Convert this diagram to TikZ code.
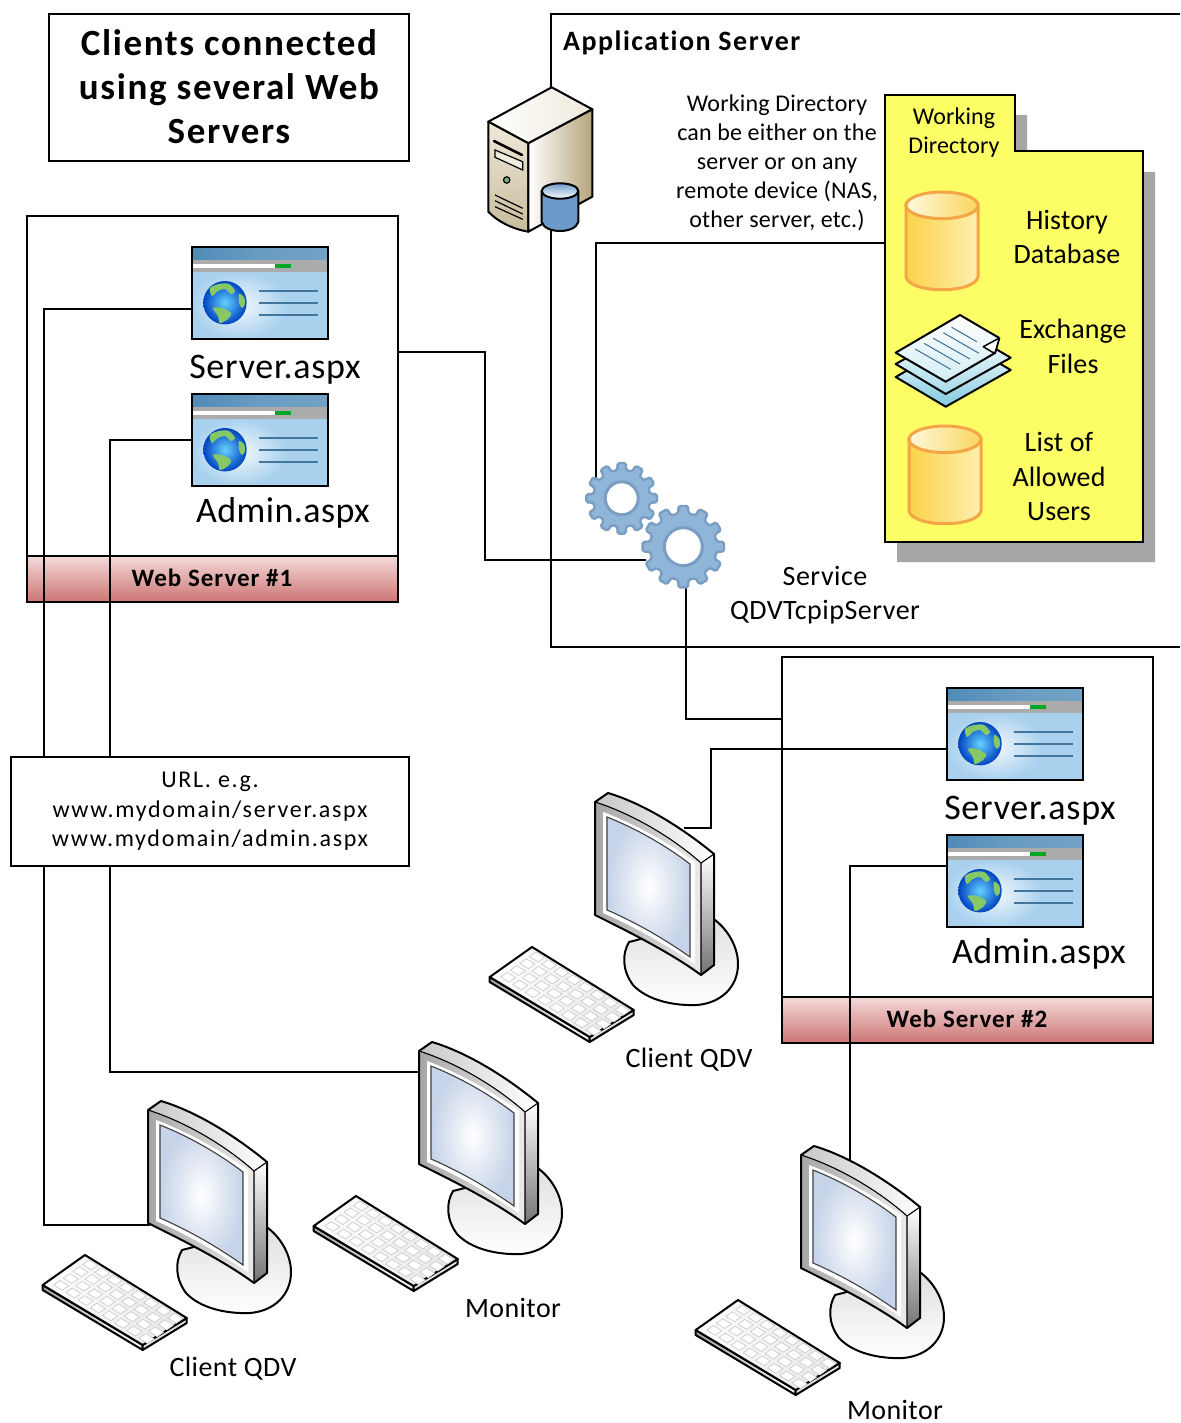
\documentclass[tikz,border=0pt]{standalone}
\usepackage{fontspec}
\setmainfont{Carlito}
\newcommand{\fs}[3]{\fontsize{#1}{#2}\selectfont\addfontfeature{LetterSpace=#3,Ligatures=NoCommon}}
\definecolor{gearblue}{HTML}{8FB6D8}
\definecolor{gearedge}{HTML}{7A9DC2}
\definecolor{foldery}{HTML}{FDFD66}
\definecolor{shadowg}{HTML}{A6A6A6}
\definecolor{bandtop}{HTML}{F4DADA}
\definecolor{bandbot}{HTML}{CC7573}
\definecolor{drumedge}{HTML}{F4A546}
\definecolor{drumleft}{HTML}{FBD24A}
\definecolor{drummid}{HTML}{FCE07A}
\definecolor{drumright}{HTML}{FFEFAE}
\definecolor{drumtopl}{HTML}{FFF8DC}
\definecolor{drumtopr}{HTML}{F9D65F}
\definecolor{pagebar}{HTML}{4F8BB7}
\definecolor{pageback}{HTML}{A9D1EE}
\definecolor{landgreen}{HTML}{86C766}
\definecolor{screenout}{HTML}{C6D3E8}
\tikzset{
  x=1pt,y=-1pt,
  wire/.style={draw=black,line width=1.3,line join=miter},
  plainbox/.style={draw=black,line width=1.3,fill=white,inner sep=0,outer sep=0,align=center},
  serverbox/.style={draw=black,line width=1.3,inner sep=0,outer sep=0,anchor=north west,minimum width=371,minimum height=386},
  band/.style={draw=black,line width=1.3,inner sep=0,outer sep=0,anchor=north west,minimum width=371,minimum height=46,top color=bandtop,bottom color=bandbot},
  ghost/.style={inner sep=0,outer sep=0,anchor=north west},
  pagenode/.style={ghost,minimum width=136,minimum height=92},
  pcnode/.style={ghost,minimum width=119,minimum height=183},
  lbl/.style={inner sep=0,align=center,text=black},
  icon/.style={draw=black,line width=2,line join=round},
  pageicon/.pic={
    \fill[left color=pagebar,right color=pagebar!80!white,middle color=pagebar!85!white] (0,0) rectangle (136,13);
    \fill[black!33] (0,13) rectangle (136,25);
    \fill[white] (0,17) rectangle (83,21);
    \fill[green!60!black!85!cyan] (83,17) rectangle (99,21);
    \fill[pageback] (0,25) rectangle (136,92);
    \fill[inner color=white!85!pageback,outer color=pageback] (0,25) rectangle (95,92);
    \shade[inner color=cyan!70!blue!60,outer color=blue!65!cyan!75!black] (33,55.7) circle [radius=21.7];
    \fill[landgreen] plot[smooth cycle] coordinates {(18,41) (27,37) (37,37) (43,44) (39,47) (33,42) (26,44) (20,49)};
    \fill[landgreen] plot[smooth cycle] coordinates {(47,47) (52,50) (53,57) (50,61) (47,56)};
    \fill[landgreen] plot[smooth cycle] coordinates {(21,61) (30,61) (39,66) (36,72) (28,76) (26,69)};
    \draw[draw=pagebar!85!black,line width=1.7] (67,44)--(126,44) (67,56)--(126,56) (67,68.3)--(126,68.3);
    \draw[draw=black,line width=1.6] (0,0) rectangle (136,92);
  },
  pcicon/.pic={
    % stand
    \draw[icon,top color=white!88!black,bottom color=white] (34,150) .. controls (27,162) and (27,178) .. (38,193) .. controls (52,208) and (78,214) .. (102,213) .. controls (126,211) and (143,195) .. (143,172) .. controls (143,155) and (133,138) .. (120,128) -- cycle;
    % keyboard
    \draw[icon,left color=black!35,right color=white] (-105.3,185) -- (-105.3,190) -- (-5.3,250) -- (-5.3,245) -- cycle;
    \draw[icon,fill=black!12] (-5.3,245) -- (-5.3,250) -- (38.7,223) -- (38.7,218) -- cycle;
    \draw[icon,left color=white,right color=black!10] (-63,155) -- (38.7,218) -- (-5.3,245) -- (-105.3,185) -- cycle;
    \foreach \j in {0,1,2,3} \foreach \i in {0,...,7} {
      \pgfmathsetmacro{\kx}{-59+\i*12.2-\j*9.6}
      \pgfmathsetmacro{\ky}{160+\i*7.6+\j*6.8}
      \draw[draw=black!20,line width=.7,fill=white] (\kx,\ky) -- ++(8.5,5.3) -- ++(-6.5,4.6) -- ++(-8.5,-5.3) -- cycle;
    }
    % monitor body
    \fill[top color=white,bottom color=black!55] (106,71) -- (119,62) -- (119,173) -- (106,183) -- cycle;
    \fill[left color=black!22,right color=white] (0,10) -- (13,1) .. controls (50,12) and (90,38) .. (119,62) -- (106,71) .. controls (78,46) and (38,22) .. (0,10) -- cycle;
    \fill[left color=black!35,right color=black!8] (0,10) .. controls (38,22) and (78,46) .. (106,71) -- (106,183) .. controls (75,160) and (30,138) .. (0,123) -- cycle;
    \fill[white] (8,20) .. controls (40,32) and (72,50) .. (100,70) -- (100,172) .. controls (70,152) and (38,134) .. (8,121) -- cycle;
    \draw[draw=black!75,line width=1.1,inner color=white,outer color=screenout] (12,25) .. controls (40,36) and (70,53) .. (95,72) -- (95,165) .. controls (68,146) and (40,130) .. (12,118) -- cycle;
    \draw[icon] (0,10) -- (13,1) .. controls (50,12) and (90,38) .. (119,62) -- (119,173) -- (106,183) .. controls (75,160) and (30,138) .. (0,123) -- cycle;
    \draw[icon,line width=1.1] (0,10) .. controls (38,22) and (78,46) .. (106,71) -- (106,183);
    \draw[icon,line width=1.1] (106,71) -- (119,62);
  },
  golddrum/.pic={
    \draw[draw=drumedge,line width=3,left color=drumleft,middle color=drummid,right color=drumright] (0,13) -- (0,85) .. controls (4,102) and (68,102) .. (72,85) -- (72,13) -- cycle;
    \draw[draw=drumedge,line width=3,left color=drumtopl,right color=drumtopr] (36,13.3) ellipse [x radius=36,y radius=13.3];
  }
}
\newcommand{\gearicon}[5]{%
  \begin{scope}[shift={(#1,#2)}]
    \draw[draw=gearedge,fill=gearblue,line width=2.4,rounded corners=1.6] (-9:#4)
      \foreach \a in {0,30,...,330} { -- (\a-9:#4) -- (\a-6.5:#3) -- (\a+6.5:#3) -- (\a+9:#4) } -- cycle;
    \draw[draw=gearedge,fill=white,line width=3] (0,0) circle [radius=#5];
  \end{scope}}
\definecolor{towerlight}{HTML}{EFE9DB}
\definecolor{towerdark}{HTML}{B5A47C}
\definecolor{towerleft}{HTML}{C9BC9C}
\definecolor{drumblue}{HTML}{6C9BC9}
\definecolor{sheetblue}{HTML}{7FCBE0}
\begin{document}
\begin{tikzpicture}
\useasboundingbox (0,0) rectangle (1180,1423);
\fill[white] (0,0) rectangle (1180,1423);

% application server frame (open to the right, running off the page)
\coordinate (appTR) at (1180,14);
\coordinate (appTL) at (551,14);
\coordinate (appBL) at (551,647);
\coordinate (appBR) at (1180,647);
\draw[wire] (appTR) -- (appTL) -- (appBL) -- (appBR);
\node[lbl,anchor=west,font=\bfseries\fs{28}{32}{5.3}] (apptitle) at (563,43) {Application Server};

% web server boxes
\node[serverbox] (ws1) at (27,216) {};
\node[band] (band1) at (27,556) {};
\node[lbl,font=\bfseries\fs{25}{30}{4}] (band1t) at (212,578) {Web Server \#1};
\node[serverbox] (ws2) at (782,657) {};
\node[band] (band2) at (782,997) {};
\node[lbl,font=\bfseries\fs{25}{30}{4}] (band2t) at (967,1019) {Web Server \#2};

% anchor nodes
\node[pagenode] (srv1) at (192,247) {};
\node[pagenode] (adm1) at (192,394) {};
\node[pagenode] (srv2) at (947,688) {};
\node[pagenode] (adm2) at (947,835) {};
\node[pcnode] (pc1) at (148,1100) {};
\node[pcnode] (pc2) at (419,1041) {};
\node[pcnode] (pc3) at (595,792) {};
\node[pcnode] (pc4) at (801,1145) {};
\node[circle,inner sep=0,outer sep=0,minimum size=72] (gearA) at (621.7,498.3) {};
\node[circle,inner sep=0,outer sep=0,minimum size=82] (gearB) at (683.3,546.7) {};

% connector ports on the edges
\coordinate (srv1p) at (192,309);
\coordinate (srv2p) at (947,749);
\coordinate (adm2p) at (947,866);
\coordinate (ws1p) at (398,352);
\coordinate (ws2p) at (782,719);
\coordinate (folderp) at (885,243);
\coordinate (pc1p) at (150,1225);
\coordinate (pc2p) at (421,1072);
\coordinate (pc3p) at (684,828);
\coordinate (pc4p) at (850,1160);
\coordinate (gearAp) at (596,480);
\coordinate (gearBs) at (686,585);
\coordinate (gearBw) at (646,560);

% connectors
\draw[wire] (srv1p) -| (44,800) |- (pc1p);
\draw[wire] (adm1.west) -| (110,800) |- (pc2p);
\draw[wire] (ws1p) -| (485,456) |- (gearBw);
\draw[wire] (gearAp) |- (folderp);
\draw[wire] (gearBs) |- (ws2p);
\draw[wire] (srv2p) -| (711,790) |- (pc3p);
\draw[wire] (adm2p) -| (pc4p);

% title and url boxes
\node[plainbox,anchor=north west,minimum width=360,minimum height=147,font=\bfseries\fs{37}{44}{4.4}] (title) at (49,14) {\raisebox{1.5pt}{Clients connected}\\\raisebox{1.5pt}{using several Web}\\\raisebox{1.5pt}{Servers}};
\node[plainbox,anchor=north west,minimum width=398,minimum height=109,font=\fs{24}{29.5}{7}] (url) at (11,757) {\raisebox{-3pt}{URL. e.g.}\\\raisebox{-3pt}{www.mydomain/server.aspx}\\\raisebox{-3pt}{www.mydomain/admin.aspx}};

% web pages
\pic at (192,247) {pageicon};
\pic at (192,394) {pageicon};
\pic at (947,688) {pageicon};
\pic at (947,835) {pageicon};
\node[lbl,font=\fs{36}{40}{2}] (srv1t) at (275,370) {Server.aspx};
\node[lbl,font=\fs{36}{40}{1.2}] (adm1t) at (283,513) {Admin.aspx};
\node[lbl,font=\fs{36}{40}{2}] (srv2t) at (1030,811) {Server.aspx};
\node[lbl,font=\fs{36}{40}{1.2}] (adm2t) at (1039,954) {Admin.aspx};

% computers
\pic at (148,1100) {pcicon};
\pic at (419,1041) {pcicon};
\pic at (595,792) {pcicon};
\pic at (801,1145) {pcicon};
\node[lbl,font=\fs{28}{32}{1.5}] (pc1t) at (233,1369) {Client QDV};
\node[lbl,font=\fs{28}{32}{1.5}] (pc2t) at (513,1308) {Monitor};
\node[lbl,font=\fs{28}{32}{1.5}] (pc3t) at (689,1060) {Client QDV};
\node[lbl,font=\fs{28}{32}{1.5}] (pc4t) at (895,1409.5) {Monitor};

% gears
\gearicon{621.7}{498.3}{35.5}{28.5}{16.5}
\gearicon{683.3}{546.7}{41}{33.5}{19}
\node[lbl,font=\fs{28}{34}{1.8}] (svct) at (825,595) {Service\\QDVTcpipServer};

% server tower
\draw[icon,left color=white,right color=towerlight] (551.7,87.3) -- (592.3,109.3) -- (528.3,143.3) -- (488.3,121.7) -- cycle;
\draw[icon,top color=towerlight,bottom color=towerleft] (488.3,121.7) -- (528.3,143.3) -- (528.3,231.7) .. controls (512,229) and (497,221) .. (488.3,211.7) -- cycle;
\draw[icon,left color=white,right color=towerdark] (528.3,143.3) -- (592.3,109.3) -- (592.3,196.7) -- (528.3,231.7) -- cycle;
\draw[draw=black,line width=2.6,line cap=round] (494,141) -- (522,155);
\draw[draw=black,line width=1.2,fill=white!70!towerleft] (495,150) -- (522.7,161.7) -- (522.7,170) -- (495,157.3) -- cycle;
\draw[draw=black,line width=1.2,fill=green!35!black!50] (506.7,180) circle [radius=3.2];
\draw[draw=black,line width=1.2] (495,195) -- (522.7,208.3) (495,200.7) -- (522.7,214) (495,206.7) -- (522.7,219.3);
\draw[icon,left color=drumblue,middle color=white,right color=drumblue] (541.7,191) -- (541.7,222) .. controls (545,234) and (575,234) .. (578.3,222) -- (578.3,191) -- cycle;
\draw[icon,top color=drumblue,bottom color=white] (560,191) ellipse [x radius=18.3,y radius=7.7];

% note
\node[lbl,font=\fs{24}{29}{0.8}] (note) at (777,163) {Working Directory\\can be either on the\\server or on any\\remote device (NAS,\\other server, etc.)};

% working directory folder
\fill[shadowg] (897,115) -- (1027,115) -- (1027,172) -- (1155,172) -- (1155,562) -- (897,562) -- cycle;
\draw[draw=black,line width=1.3,fill=foldery] (885,95) -- (1015,95) -- (1015,151) -- (1143,151) -- (1143,542) -- (885,542) -- cycle;
\node[lbl,font=\fs{24}{29}{0.5}] (foldert) at (954,133) {Working\\Directory};
\pic at (906,192) {golddrum};
\pic at (909,426) {golddrum};
\node[lbl,font=\fs{28}{34}{0.5}] (histt) at (1067,237) {History\\Database};
\node[lbl,font=\fs{28}{35}{0.3}] (exct) at (1073,346.5) {Exchange\\Files};
\node[lbl,font=\fs{28}{34.5}{0.5}] (listt) at (1059,476.5) {List of\\Allowed\\Users};

% exchange files stack
\draw[icon,top color=white,bottom color=sheetblue] (895.7,377) -- (945.7,406.7) -- (1010.7,370) -- (960,340) -- cycle;
\draw[icon,top color=white,bottom color=sheetblue!70!white] (895.7,364) -- (945.7,394) -- (1010.7,357.7) -- (960,328) -- cycle;
\draw[icon,top color=white,bottom color=sheetblue!35!white] (895.7,352.7) -- (945.7,381.7) -- (995,353) -- (999.3,338) -- (960,315) -- cycle;
\draw[icon,fill=white,line width=1.5] (983.3,346.7) -- (999.3,338) -- (995,353) -- (992,352) -- cycle;
\draw[draw=pagebar!80!black,line width=1] (951.7,327.3) -- (976.7,341.7) (943.3,332.7) -- (979,353.3) (933.3,338.3) -- (970,359) (924,343.3) -- (960,364) (915,349) -- (950.7,369.3);
\end{tikzpicture}
\end{document}
